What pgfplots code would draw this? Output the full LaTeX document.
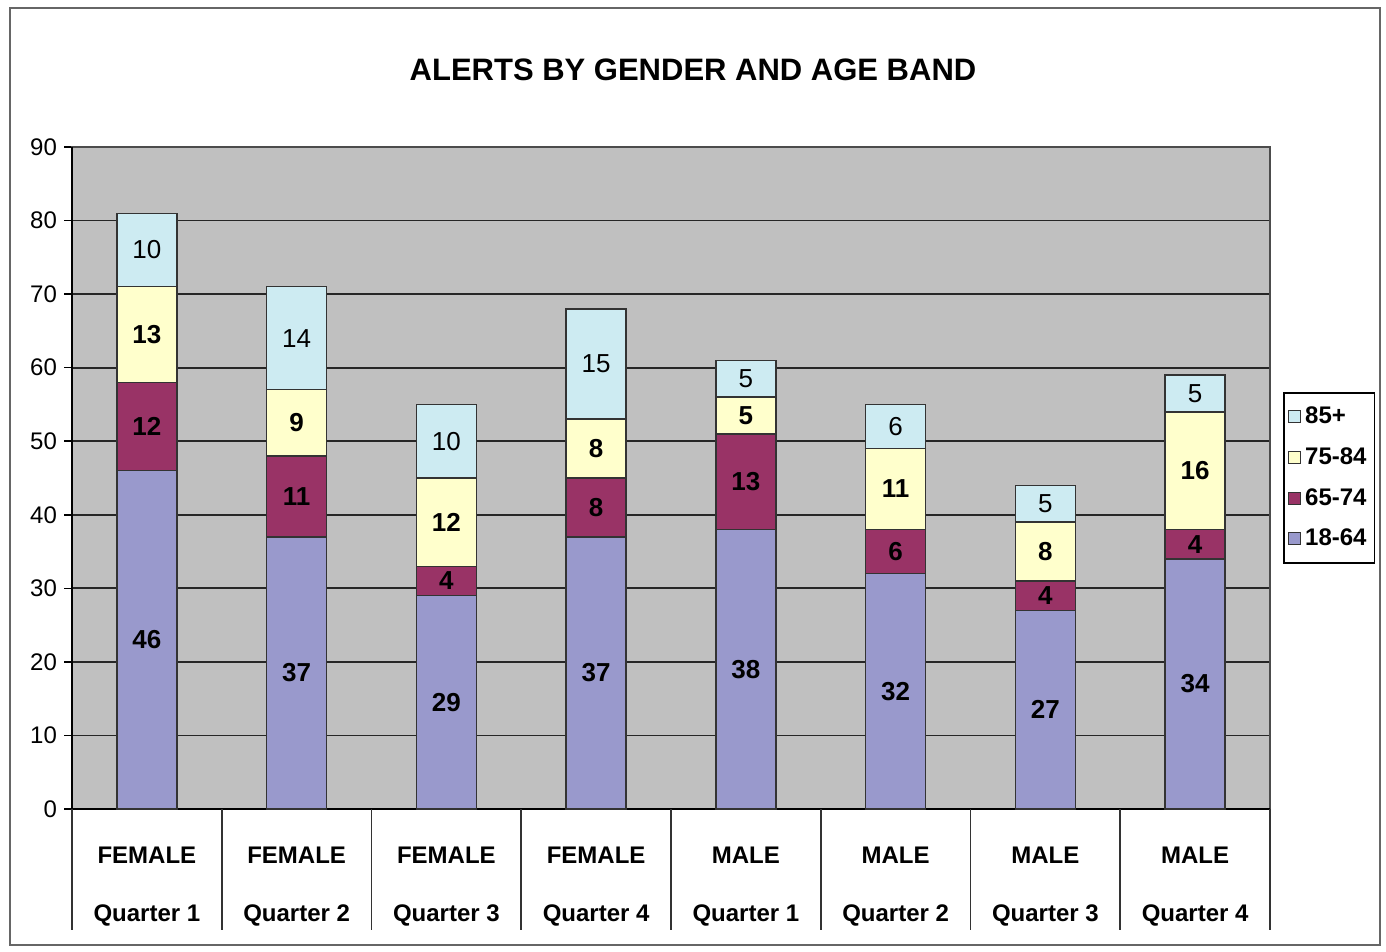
\documentclass[border=0pt]{standalone}
\usepackage{fontspec}
\setmainfont{Liberation Sans}
\usepackage{pgfplots}
\usepackage{pgfplotstable}
\pgfplotsset{compat=1.18}
\definecolor{cA}{RGB}{153,153,204}
\definecolor{cB}{RGB}{153,51,102}
\definecolor{cC}{RGB}{255,255,204}
\definecolor{cD}{RGB}{205,235,242}
\definecolor{bg}{RGB}{192,192,192}
\pgfplotsset{
  /pgfplots/vcenter labels/.style={
    nodes near coords,
    every node near coord/.append style={anchor=center, text=black}
  }
}
\pgfplotstableread{
x a b c d
0 46 12 13 10
1 37 11 9 14
2 29 4 12 10
3 37 8 8 15
4 38 13 5 5
5 32 6 11 6
6 27 4 8 5
7 34 4 16 5
}\data
\begin{document}
\begin{tikzpicture}
\begin{axis}[
  at={(0,0)}, anchor=south west,
  scale only axis, width=599pt, height=331pt,
  ybar stacked, bar width=30pt,
  xmin=-0.5, xmax=7.5, ymin=0, ymax=90,
  ytick={0,10,...,90},
  xtick={0,...,7},
  ytick pos=left,
  xticklabels={{FEMALE\\Quarter 1},{FEMALE\\Quarter 2},{FEMALE\\Quarter 3},{FEMALE\\Quarter 4},{MALE\\Quarter 1},{MALE\\Quarter 2},{MALE\\Quarter 3},{MALE\\Quarter 4}},
  xticklabel style={align=center, anchor=north, yshift=-11.5pt, font=\fontsize{12}{29}\selectfont\bfseries},
  yticklabel style={font=\fontsize{12}{14}\selectfont},
  /pgf/number format/assume math mode=true,
  xtick style={draw=none},
  ytick style={black, line width=0.8pt},
  tick align=outside, major tick length=4pt,
  ymajorgrids, grid style={black!85, line width=0.9pt},
  axis background/.style={fill=bg},
  axis line style={black!70, line width=0.8pt},
  clip=false,
  reverse legend,
  legend style={at={(1.011,0.63)}, anchor=north west, draw=black, line width=0.8pt, fill=white,
    font=\fontsize{12}{14}\selectfont\bfseries, row sep=6.5pt, inner xsep=2pt, inner ysep=5pt,
    cells={anchor=west}},
  legend image code/.code={\draw[#1, draw=black!80, line width=0.6pt] (0pt,-3pt) rectangle (6pt,3pt);},
  every axis plot/.append style={draw=black!80, line width=0.7pt},
]
\addplot[fill=cA, vcenter labels, every node near coord/.append style={font=\fontsize{13}{15}\selectfont\bfseries}] table[x=x,y=a]{\data};
\addplot[fill=cB, vcenter labels, every node near coord/.append style={font=\fontsize{13}{15}\selectfont\bfseries}] table[x=x,y=b]{\data};
\addplot[fill=cC, vcenter labels, every node near coord/.append style={font=\fontsize{13}{15}\selectfont\bfseries}] table[x=x,y=c]{\data};
\addplot[fill=cD, vcenter labels, every node near coord/.append style={font=\fontsize{13}{15}\selectfont}] table[x=x,y=d]{\data};
\legend{18-64,65-74,75-84,85+}
\pgfplotsinvokeforeach{-0.5,0.5,1.5,2.5,3.5,4.5,5.5,6.5,7.5}{
  \draw[black!80, line width=0.9pt] (axis cs:#1,0) -- ++(0pt,-60.5pt);
}
\draw[black, line width=0.9pt] (axis cs:-0.5,0) -- (axis cs:7.5,0);
\draw[black, line width=0.9pt] (axis cs:-0.5,0) -- (axis cs:-0.5,90);
\end{axis}
\node[font=\fontsize{15.5}{18}\selectfont\bfseries] at (310.5pt,369.5pt) {ALERTS BY GENDER AND AGE BAND};
\draw[black!60, line width=1pt] (-31pt,-68pt) rectangle (654pt,400.5pt);
\pgfresetboundingbox
\path[use as bounding box] (-36pt,-71.5pt) rectangle (657pt,404.5pt);
\end{tikzpicture}
\end{document}
